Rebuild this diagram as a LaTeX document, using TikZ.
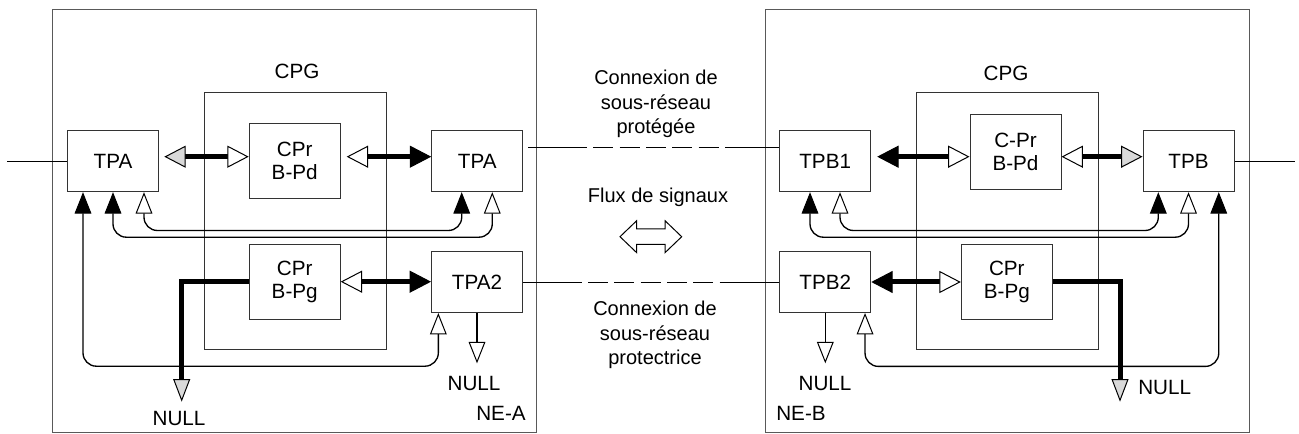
\documentclass[tikz,border=0pt]{standalone}
\usepackage{fontspec}
\setmainfont{Liberation Sans}
\usetikzlibrary{arrows.meta}
\usetikzlibrary{positioning}

\definecolor{boxgray}{gray}{0.2}
\definecolor{framegray}{gray}{0.35}
\definecolor{headgray}{gray}{0.85}

\tikzset{
  tpbox/.style={draw=boxgray, line width=0.75pt, minimum width=68.25pt, minimum height=45.75pt, inner sep=0pt, font=\fontsize{15.5}{17}\selectfont},
  cprbox/.style={tpbox, minimum height=56.5pt, align=center},
  cpgbox/.style={draw=boxgray, line width=0.75pt, minimum width=136.5pt, minimum height=192.75pt, inner sep=0pt},
  nebox/.style={draw=framegray, line width=0.75pt, minimum width=363.3pt, minimum height=316.5pt, inner sep=0pt},
  lbl/.style={inner sep=0pt, font=\fontsize{15.5}{17}\selectfont},
  note/.style={inner sep=0pt, align=center, font=\fontsize{15}{18.4}\selectfont},
  wire/.style={line width=1pt},
  bus/.style={line width=3.75pt},
  linkdash/.style={wire, dash pattern=on 15pt off 4.75pt, dash phase=15pt},
  bigblack/.tip={Triangle[length=16pt, width=16.5pt, line width=0.75pt]},
  bigwhite/.tip={Triangle[length=16pt, width=16.5pt, line width=0.75pt, fill=white]},
  biggray/.tip={Triangle[length=16pt, width=16.5pt, line width=0.75pt, fill=headgray]},
  smallblack/.tip={Triangle[length=16pt, width=12.5pt, line width=0.75pt]},
  smallwhite/.tip={Triangle[length=16pt, width=12.5pt, line width=0.75pt, fill=white]},
  smallgray/.tip={Triangle[length=17pt, width=12.75pt, line width=0.75pt, fill=headgray]},
}

\begin{document}
\begin{tikzpicture}[x=0.75pt, y=-0.75pt]
  \useasboundingbox[fill=white] (0,0) rectangle (1299,434);
  %Network elements
  \node[nebox] (neA) at (294.5,221) {};
  \node[nebox] (neB) at (1007.2,221) {};
  \node[lbl] (neAlabel) at (501,413) {NE-A};
  \node[lbl] (neBlabel) at (801,413) {NE-B};
  %CPG frames
  \node[cpgbox] (cpgA) at (295,221.5) {};
  \node[cpgbox] (cpgB) at (1007,221.5) {};
  \node[lbl] (cpgAlabel) at (297,71) {CPG};
  \node[lbl] (cpgBlabel) at (1006,73) {CPG};
  %Side A
  \node[tpbox] (tpaL) at (113,161.2) {TPA};
  \node[tpbox] (tpaR) at (477.2,161.2) {TPA};
  \node[tpbox] (tpa2) at (477,282) {TPA2};
  \node[cprbox] (cprdA) at (294.7,160.8) {CPr\\B-Pd};
  \node[cprbox] (cprgA) at (294.7,281.7) {CPr\\B-Pg};
  %Side B
  \node[tpbox] (tpb1) at (825.2,161.2) {TPB1};
  \node[tpbox] (tpb) at (1188.5,161.2) {TPB};
  \node[tpbox] (tpb2) at (825.3,282) {TPB2};
  \node[cprbox] (cprdB) at (1015.5,152.2) {C-Pr\\B-Pd};
  \node[cprbox] (cprgB) at (1006.8,281.7) {CPr\\B-Pg};
  %Helper points
  \coordinate (rowTop) at (0,156.7);
  \coordinate (inA) at (7,161.2);
  \coordinate (outB) at (1295,161.2);
  \coordinate (topGapA) at (587,147.3);
  \coordinate (topGapB) at (725,147.3);
  \coordinate (botGapA) at (581.7,282.5);
  \coordinate (botGapB) at (720,282.5);
  \coordinate (sinkA) at (181.7,401.7);
  \coordinate (sinkB) at (1120,401.7);
  \coordinate (sinkA2) at (477,363.3);
  \coordinate (sinkB2) at (825.3,363.3);
  %Line ports
  \draw[wire] (inA) -- (tpaL.west);
  \draw[wire] (tpb.east) -- (outB);
  %Subnetwork connections
  \draw[wire, shorten <=3.75pt] (tpaR.east |- topGapA) -- (topGapA);
  \draw[linkdash] (topGapA) -- (topGapB);
  \draw[wire] (topGapB) -- (tpb1.west |- topGapB);
  \draw[wire] (tpa2.east |- botGapA) -- (botGapA);
  \draw[linkdash] (botGapA) -- (botGapB);
  \draw[wire] (botGapB) -- (tpb2.west |- botGapB);
  %Bridge and selector, protected
  \draw[bus, {biggray}-{bigwhite}, shorten <=4pt] (tpaL.east |- rowTop) -- (cprdA.west |- rowTop);
  \draw[bus, {bigwhite}-{bigblack}, shorten <=4.5pt] (cprdA.east |- rowTop) -- (tpaR.west |- rowTop);
  \draw[bus, {bigblack}-{bigwhite}, shorten <=4.5pt] (tpb1.east |- rowTop) -- (cprdB.west |- rowTop);
  \draw[bus, {bigwhite}-{biggray}] (cprdB.east |- rowTop) -- (tpb.west |- rowTop);
  %Bridge and selector, protecting
  \draw[bus, {bigwhite}-{bigblack}] (cprgA.east) -- (cprgA.east -| tpa2.west);
  \draw[bus, {bigblack}-{bigwhite}] (tpb2.east) -- (tpb2.east -| cprgB.west);
  \draw[bus, -{smallgray}] (cprgA.west) -| (sinkA);
  \draw[bus, -{smallgray}] (cprgB.east) -| (sinkB);
  %Control loops
  \draw[wire, rounded corners=10pt, {smallwhite}-{smallblack}] ([xshift=23.25pt]tpaL.south) -- ++(0,38.3) -| ([xshift=-11.6pt]tpaR.south);
  \draw[wire, rounded corners=10pt, {smallblack}-{smallwhite}] (tpaL.south) -- ++(0,45) -| ([xshift=11.3pt]tpaR.south);
  \draw[wire, rounded corners=10pt, {smallblack}-{smallwhite}] ([xshift=-22.5pt]tpaL.south) -- ++(0,174) -| ([xshift=-29pt]tpa2.south);
  \draw[wire, rounded corners=10pt, {smallwhite}-{smallblack}] ([xshift=11.1pt]tpb1.south) -- ++(0,38.3) -| ([xshift=-22.65pt]tpb.south);
  \draw[wire, rounded corners=10pt, {smallblack}-{smallwhite}] ([xshift=-11.4pt]tpb1.south) -- ++(0,45) -| (tpb.south);
  \draw[wire, rounded corners=10pt, {smallwhite}-{smallblack}] ([xshift=29.8pt]tpb2.south) -- ++(0,53.4) -| ([xshift=22.7pt]tpb.south);
  %Null outputs
  \draw[wire, -{smallwhite}] (tpa2.south) -- (sinkA2);
  \draw[wire, -{smallwhite}] (tpb2.south) -- (sinkB2);
  \node[lbl] (nullA) at (179,418) {NULL};
  \node[lbl] (nullA2) at (474,383) {NULL};
  \node[lbl] (nullB2) at (825,383) {NULL};
  \node[lbl, anchor=west] (nullB) at (1138,387) {NULL};
  %Middle legend
  \node[note] (protected) at (656,104) {Connexion de\\sous-réseau\\protégée};
  \node[note] (flux) at (658,197) {Flux de signaux};
  \node[note] (protecting) at (655,335) {Connexion de\\sous-réseau\\protectrice};
  \coordinate (fluxArrow) at (650.8,236.7);
  \draw[line width=0.75pt, fill=white] (620,236.7) -- (636.7,220.7) -- (636.7,229) -- (665,229) -- (665,220.7) -- (681.7,236.7) -- (665,252.7) -- (665,244.4) -- (636.7,244.4) -- (636.7,252.7) -- cycle;
\end{tikzpicture}
\end{document}
